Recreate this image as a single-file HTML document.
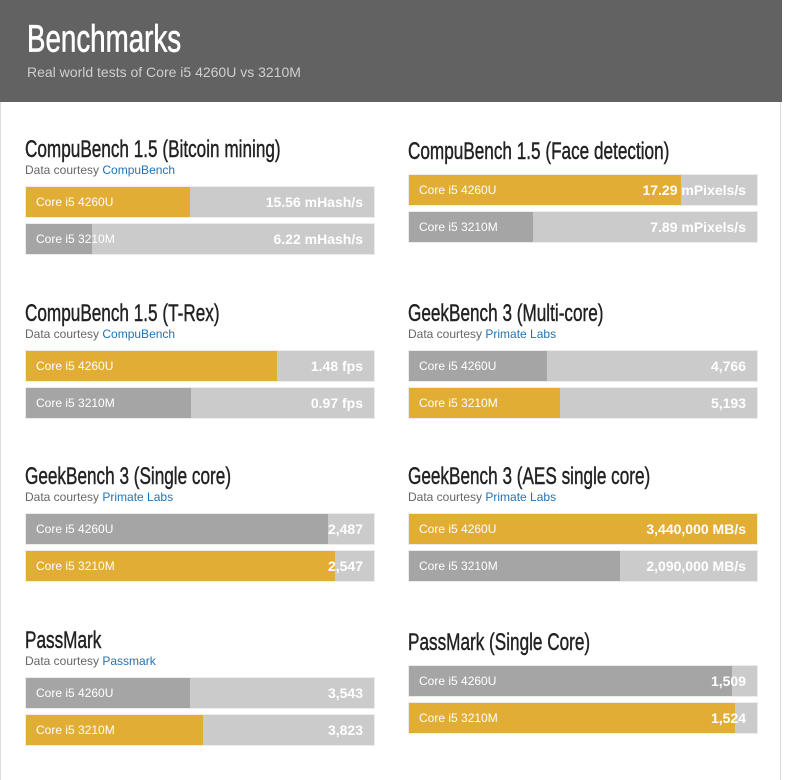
<!DOCTYPE html>
<html><head><meta charset="utf-8">
<style>
html,body{margin:0;padding:0;background:#fff;width:789px;height:780px;overflow:hidden;font-family:"Liberation Sans",Arial,sans-serif;position:relative}
#frame{position:absolute;left:0;top:0;width:781px;height:780px;border-left:1px solid #ddd;border-right:1px solid #ddd;box-sizing:border-box}
#header{position:absolute;left:0;top:0;width:782px;height:102px;background:#626262}
#header h1{position:absolute;left:27px;top:18px;margin:0;font-family:"Liberation Sans",sans-serif;font-weight:normal;font-size:36px;color:#fff;line-height:40px;transform:scale(0.77,1.05);transform-origin:left top;-webkit-text-stroke:0.6px #fff}
#header p{position:absolute;left:27px;top:64px;margin:0;font-size:14px;color:#cfcfcf}
.title{position:absolute;margin:0;font-family:"Liberation Sans",sans-serif;font-size:22px;line-height:22px;color:#222;white-space:nowrap;transform:scale(0.78,1.1);transform-origin:left top;-webkit-text-stroke:0.4px #222}
.src{position:absolute;font-size:12px;color:#666;line-height:14px;white-space:nowrap}
.src a{color:#1f73b7;text-decoration:none}
.track{position:absolute;width:348px;height:30px;background:#cbcbcb;outline:1px solid #ececec}
.fill{position:absolute;left:0;top:0;height:30px}
.lbl{position:absolute;left:10px;top:8px;font-size:12px;color:#fff;line-height:14px;white-space:nowrap}
.val{position:absolute;right:11px;top:7px;font-size:14px;font-weight:bold;color:#fff;line-height:16px;white-space:nowrap}
</style></head><body>
<div id="frame"></div>
<div id="header">
<h1>Benchmarks</h1>
<p>Real world tests of Core i5 4260U vs 3210M</p>
</div>
<div id="charts"></div>
<script>
const titles=["CompuBench 1.5 (Bitcoin mining)","CompuBench 1.5 (Face detection)","CompuBench 1.5 (T-Rex)","GeekBench 3 (Multi-core)","GeekBench 3 (Single core)","GeekBench 3 (AES single core)","PassMark","PassMark (Single Core)"];
const sources=["CompuBench",null,"CompuBench","Primate Labs","Primate Labs","Primate Labs","Passmark",null];
const cpuNames=["Core i5 4260U","Core i5 3210M"];
const valuesA=[15.56,17.29,1.48,4766,2487,3440000,3543,1509];
const valuesB=[6.22,7.89,0.97,5193,2547,2090000,3823,1524];
const printedA=["15.56 mHash/s","17.29 mPixels/s","1.48 fps","4,766","2,487","3,440,000 MB/s","3,543","1,509"];
const printedB=["6.22 mHash/s","7.89 mPixels/s","0.97 fps","5,193","2,547","2,090,000 MB/s","3,823","1,524"];
const scaleMax=[33,22.1,2.05,12000,2866,3440000,7500,1626];

const root=document.getElementById('charts');
const W=348;
function xScale(v,i){return Math.min(W,Math.round(v/scaleMax[i]*W));}
titles.forEach((t,i)=>{
  const col=i%2,row=Math.floor(i/2);
  const x=col?408:25;
  const base=row*163.5;
  const hasSrc=!!sources[i];
  const h=document.createElement('div');
  
  
  h.className='title';h.textContent=t;
  h.style.left=x+'px';h.style.top=Math.round(base+(hasSrc?137:139))+'px';
  root.appendChild(h);
  if(hasSrc){
    const s=document.createElement('div');
    
    
    s.className='src';s.style.left=x+'px';s.style.top=Math.round(base+163)+'px';
    s.innerHTML='Data courtesy <a>'+sources[i]+'</a>';
    s.querySelector('a');
    s.querySelector('a');
    root.appendChild(s);
  }
  const vals=[valuesA[i],valuesB[i]],pr=[printedA[i],printedB[i]];
  const win=vals[0]>=vals[1]?0:1;
  vals.forEach((v,j)=>{
    const tr=document.createElement('div');
    
    
    tr.className='track';
    tr.style.left=(x+1)+'px';
    tr.style.top=Math.round(base+(hasSrc?187:175)+j*37)+'px';
    const f=document.createElement('div');
    
    
    f.className='fill';f.style.width=xScale(v,i)+'px';
    f.style.background=j===win?'#e2ad34':'#a5a5a5';
    tr.appendChild(f);
    const l=document.createElement('div');
    
    
    l.className='lbl';l.textContent=cpuNames[j];tr.appendChild(l);
    const vv=document.createElement('div');
    
    
    vv.className='val';vv.textContent=pr[j];tr.appendChild(vv);
    root.appendChild(tr);
  });
});
</script>
</body></html>
